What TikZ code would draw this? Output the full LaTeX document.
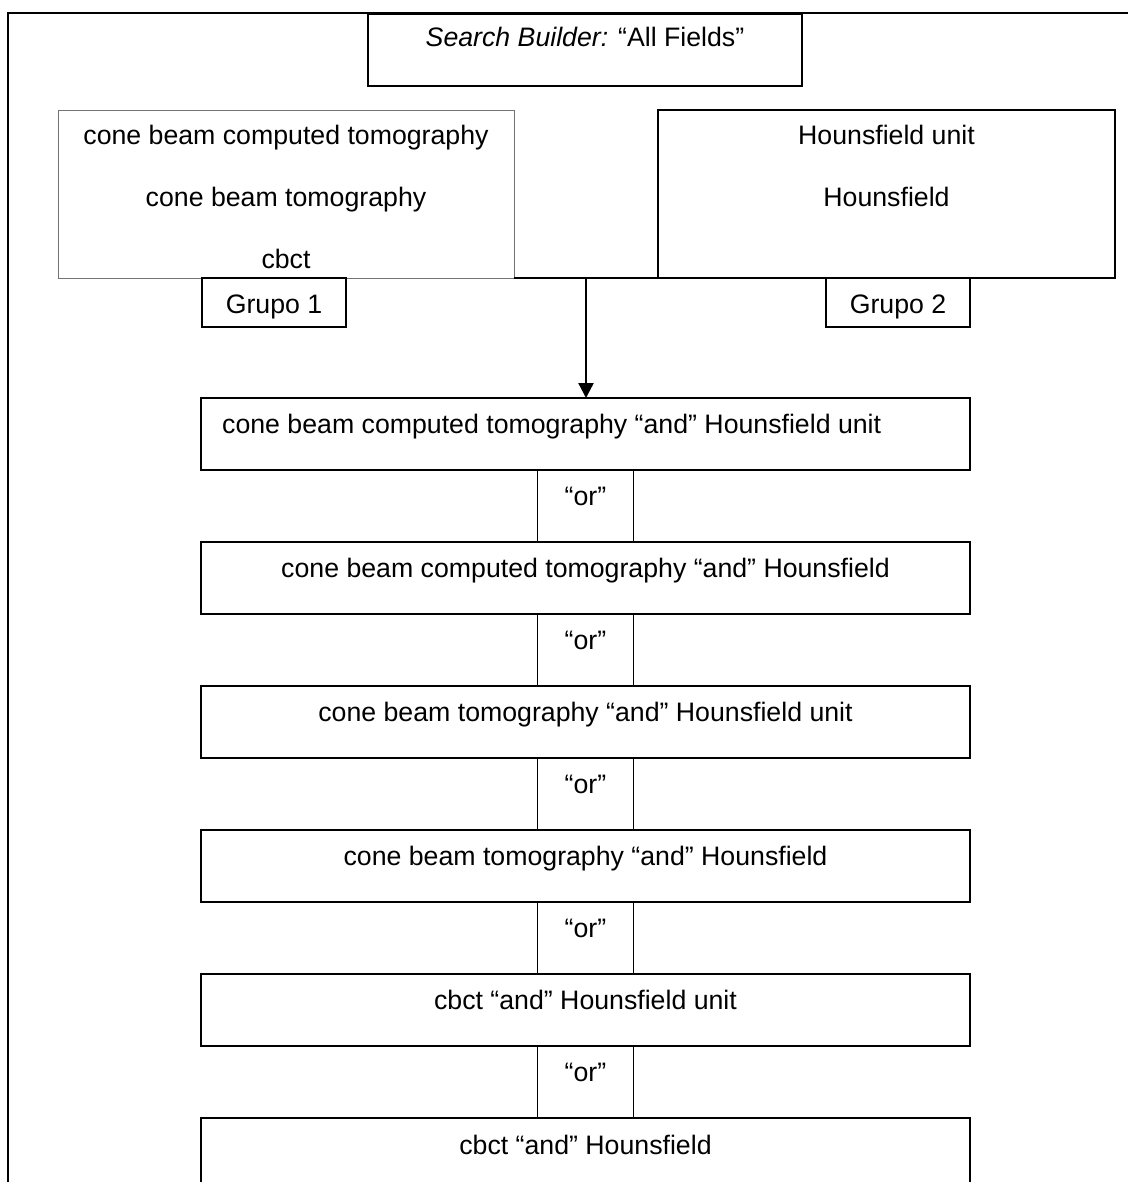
\documentclass[tikz,border=0pt]{standalone}
\usepackage{fontspec}
\setmainfont{Liberation Sans}
\usetikzlibrary{arrows.meta,calc}

\tikzset{
  box/.style={draw=black, line width=1.6pt, inner sep=0pt, outer sep=0pt, anchor=north west},
  thinbox/.style={draw=black!55, line width=0.9pt, inner sep=0pt, outer sep=0pt, anchor=north west},
  txt/.style={inner sep=0pt, anchor=base, font=\fontsize{26.7}{32}\selectfont},
  txtl/.style={txt, anchor=base west},
  link/.style={line width=2pt},
  arrowlink/.style={line width=2.4pt, -{Triangle[length=15pt,width=15pt]}},
  frame/.style={line width=1.1pt}
}

\begin{document}
\begin{tikzpicture}[x=1pt, y=-1pt]
  \useasboundingbox (0,0) rectangle (1128,1182);

  % outer frame (open to the right and bottom)
  \coordinate (fTL) at (8,13);
  \coordinate (fTR) at (1128,13);
  \coordinate (fBL) at (8,1182);
  \draw[frame] (fTR) -- (fTL) -- (fBL);

  % search builder header
  \node[box, line width=1.9pt, minimum width=434pt, minimum height=72pt] (sb) at (368,14) {};
  \node[txt] (sbt) at ($(sb.north)+(0,33)$) {\textit{Search Builder:} “All Fields”};

  % term groups
  \node[thinbox, minimum width=456pt, minimum height=168pt] (lbox) at (58,110) {};
  \node[txt] (l1) at ($(lbox.north)+(0,35)$) {cone beam computed tomography};
  \node[txt] (l2) at ($(lbox.north)+(0,96.7)$) {cone beam tomography};
  \node[txt] (l3) at ($(lbox.north)+(0,158.3)$) {cbct};

  \node[box, minimum width=457pt, minimum height=168pt] (rbox) at (658,110) {};
  \node[txt] (r1) at ($(rbox.north)+(0,35)$) {Hounsfield unit};
  \node[txt] (r2) at ($(rbox.north)+(0,96.7)$) {Hounsfield};

  \node[box, line width=1.3pt, minimum width=144pt, minimum height=49pt] (g1) at (202,278) {};
  \node[txt] (g1t) at ($(g1.north)+(0,35.3)$) {Grupo 1};
  \node[box, line width=1.3pt, minimum width=144pt, minimum height=49pt] (g2) at (826,278) {};
  \node[txt] (g2t) at ($(g2.north)+(0,35.3)$) {Grupo 2};

  % combined queries
  \node[box, minimum width=769pt, minimum height=72pt] (c1) at (201,398) {};
  \node[box, minimum width=769pt, minimum height=72pt] (c2) at (201,542) {};
  \node[box, minimum width=769pt, minimum height=72pt] (c3) at (201,686) {};
  \node[box, minimum width=769pt, minimum height=72pt] (c4) at (201,830) {};
  \node[box, minimum width=769pt, minimum height=72pt] (c5) at (201,974) {};
  \node[box, minimum width=769pt, minimum height=72pt] (c6) at (201,1118) {};

  \node[txtl] (c1t) at ($(c1.north west)+(21,35)$) {cone beam computed tomography “and” Hounsfield unit};
  \node[txt] (c2t) at ($(c2.north)+(0,35)$) {cone beam computed tomography “and” Hounsfield};
  \node[txt] (c3t) at ($(c3.north)+(0,35)$) {cone beam tomography “and” Hounsfield unit};
  \node[txt] (c4t) at ($(c4.north)+(0,35)$) {cone beam tomography “and” Hounsfield};
  \node[txt] (c5t) at ($(c5.north)+(0,35)$) {cbct “and” Hounsfield unit};
  \node[txt] (c6t) at ($(c6.north)+(0,36)$) {cbct “and” Hounsfield};

  % "or" joints between the queries
  \foreach \i in {1,...,5} {
    \node[box, line width=1.3pt, anchor=north, minimum width=96pt, minimum height=72pt] (or\i) at (c\i.south) {};
    \node[txt] (or\i t) at ($(or\i.north)+(0,35)$) {“or”};
  }

  % connector from the two groups to the first query
  \draw[link] (lbox.south east) -- (rbox.south west);
  \coordinate (j) at ($(lbox.south east)!0.5!(rbox.south west)$);
  \draw[arrowlink] (j) -- (j |- c1.north);
\end{tikzpicture}
\end{document}
